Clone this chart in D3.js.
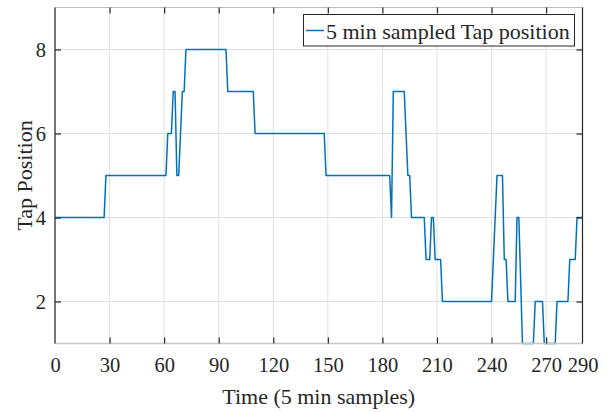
<!DOCTYPE html>
<html>
<head>
<meta charset="utf-8">
<script src="https://cdn.jsdelivr.net/npm/d3@7"></script>
<style>
  html, body { margin: 0; padding: 0; background: #fff; }
  svg { display: block; }
  text { font-family: "Liberation Serif", "Times New Roman", serif; fill: #262626; }
</style>
</head>
<body>
<svg id="chart" width="609" height="412"></svg>
<script>
// Polyline vertices of the tap-position trace (sample index, tap position)
const times = [0, 27, 28, 61, 62, 64, 65, 66, 67, 68, 70, 71, 72, 94, 95, 109, 110, 148, 149,
  184, 185, 186, 192, 194, 195, 196, 203, 204, 206, 207, 208, 209, 212, 213, 240, 243, 246,
  247, 248, 249, 253, 254, 255, 257, 263, 264, 268, 269, 275, 276, 282, 283, 286, 287, 290];
const taps = [4, 4, 5, 5, 6, 6, 7, 7, 5, 5, 7, 7, 8, 8, 7, 7, 6, 6, 5,
  5, 4, 7, 7, 5, 5, 4, 4, 3, 3, 4, 4, 3, 3, 2, 2, 5, 5,
  3, 3, 2, 2, 4, 4, 1, 1, 2, 2, 1, 1, 2, 2, 3, 3, 4, 4];
const xTicks = [0, 30, 60, 90, 120, 150, 180, 210, 240, 270, 290];
const yTicks = [2, 4, 6, 8];
const xLabel = "Time (5 min samples)";
const yLabel = "Tap Position";
const legendLabel = "5 min sampled Tap position";

const svg = d3.select("#chart");
const m = { left: 55, right: 26.5, top: 7.5, bottom: 68.5 };
const W = 609, H = 412;
const x = d3.scaleLinear().domain([0, 290]).range([m.left, W - m.right]);
const y = d3.scaleLinear().domain([1, 9]).range([H - m.bottom, m.top]);

const axisDark = "#262626";
const gridCol = "#e0e0e0";

// grid
const g = svg.append("g");
g.selectAll(".vg").data(xTicks).enter().append("line")
  .attr("x1", d => x(d)).attr("x2", d => x(d))
  .attr("y1", y(1)).attr("y2", y(9))
  .attr("stroke", gridCol).attr("stroke-width", 1);
g.selectAll(".hg").data(yTicks).enter().append("line")
  .attr("x1", x(0)).attr("x2", x(290))
  .attr("y1", d => y(d)).attr("y2", d => y(d))
  .attr("stroke", gridCol).attr("stroke-width", 1);

// data line
const pts = times.map((t, i) => [t, taps[i]]);
svg.append("path")
  .datum(pts)
  .attr("fill", "none")
  .attr("stroke", "#0072BD")
  .attr("stroke-width", 1.5)
  .attr("stroke-linejoin", "round")
  .attr("d", d3.line().x(d => x(d[0])).y(d => y(d[1])));

// box lines
svg.append("line").attr("x1", x(0)).attr("x2", x(290)).attr("y1", y(1)).attr("y2", y(1))
  .attr("stroke", "#c8c8c8").attr("stroke-width", 1.5);
svg.append("line").attr("x1", x(0)).attr("x2", x(290)).attr("y1", y(9)).attr("y2", y(9))
  .attr("stroke", "#bdbdbd").attr("stroke-width", 1.2);
svg.append("line").attr("x1", x(0)).attr("x2", x(0)).attr("y1", y(1)).attr("y2", y(9))
  .attr("stroke", axisDark).attr("stroke-width", 1.2);
svg.append("line").attr("x1", x(290)).attr("x2", x(290)).attr("y1", y(1)).attr("y2", y(9))
  .attr("stroke", axisDark).attr("stroke-width", 1.2);

// axes (ticks inward) via d3 axes
const tickLen = 6;
const xAxisB = svg.append("g").attr("transform", `translate(0,${y(1)})`)
  .call(d3.axisBottom(x).tickValues(xTicks).tickSizeInner(-tickLen).tickSizeOuter(0).tickPadding(14));
const xAxisT = svg.append("g").attr("transform", `translate(0,${y(9)})`)
  .call(d3.axisTop(x).tickValues(xTicks).tickSizeInner(-tickLen).tickSizeOuter(0).tickFormat(""));
const yAxisL = svg.append("g").attr("transform", `translate(${x(0)},0)`)
  .call(d3.axisLeft(y).tickValues(yTicks).tickSizeInner(-tickLen).tickSizeOuter(0).tickPadding(9));
const yAxisR = svg.append("g").attr("transform", `translate(${x(290)},0)`)
  .call(d3.axisRight(y).tickValues(yTicks).tickSizeInner(-tickLen).tickSizeOuter(0).tickFormat(""));

[xAxisB, xAxisT, yAxisL, yAxisR].forEach(a => {
  a.select(".domain").remove();
  a.selectAll(".tick line").attr("stroke", axisDark).attr("stroke-width", 1.2);
  a.selectAll(".tick text").attr("font-size", 20.5)
    .attr("font-family", "'Liberation Serif', 'Times New Roman', serif").attr("fill", axisDark);
});
xAxisB.selectAll(".tick line").filter(d => d === 0 || d === 290).remove();
xAxisT.selectAll(".tick line").filter(d => d === 0 || d === 290).remove();

// axis titles
svg.append("text").attr("x", (x(0) + x(290)) / 2).attr("y", 403.5)
  .attr("text-anchor", "middle").attr("font-size", 22).text(xLabel);
svg.append("text").attr("transform", `translate(32,${(y(1) + y(9)) / 2}) rotate(-90)`)
  .attr("text-anchor", "middle").attr("font-size", 22).text(yLabel);

// legend
const lg = svg.append("g");
lg.append("rect").attr("x", 303.5).attr("y", 14.5).attr("width", 271).attr("height", 31.5)
  .attr("fill", "#fff").attr("stroke", axisDark).attr("stroke-width", 1);
lg.append("line").attr("x1", 306).attr("x2", 324).attr("y1", 30.5).attr("y2", 30.5)
  .attr("stroke", "#0072BD").attr("stroke-width", 1.5);
lg.append("text").attr("x", 326).attr("y", 38.5).attr("font-size", 22).text(legendLabel);
</script>
</body>
</html>
